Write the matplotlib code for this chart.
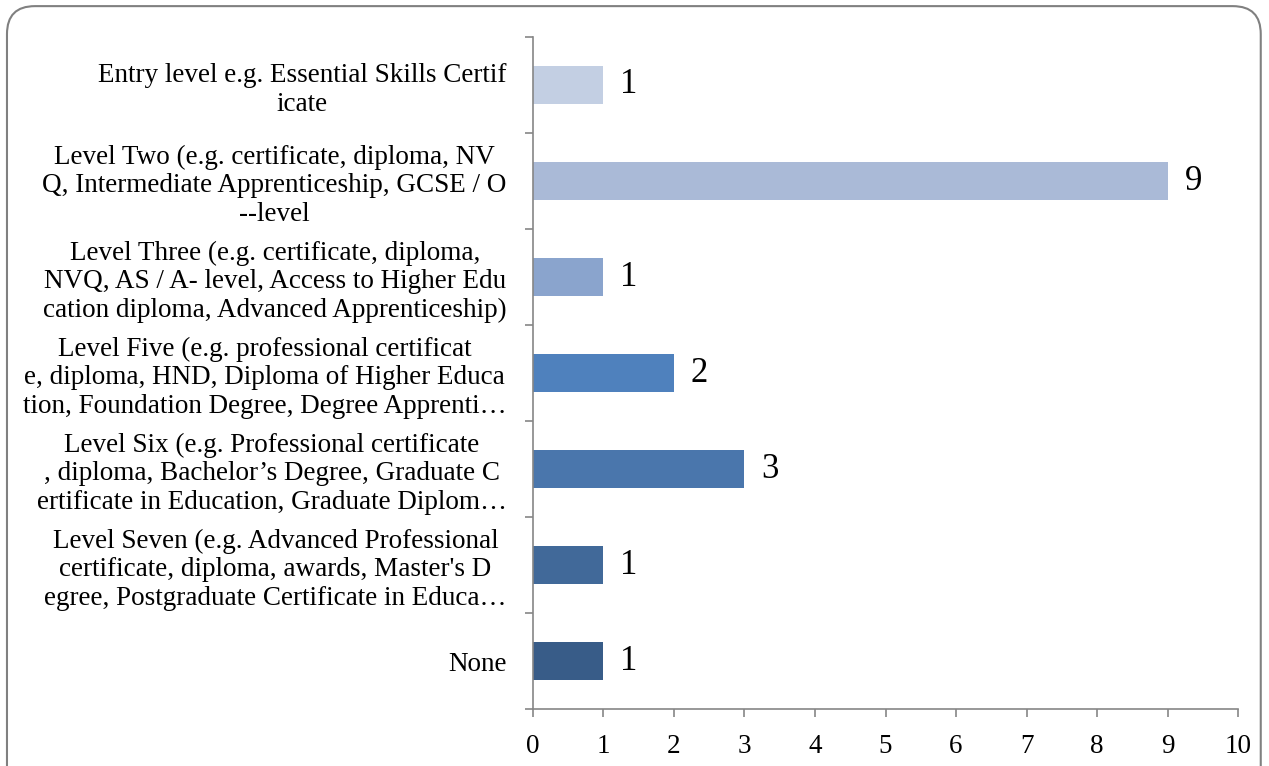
import numpy as np
import matplotlib
matplotlib.use("Agg")
import matplotlib.pyplot as plt
from matplotlib.patches import FancyBboxPatch
from matplotlib.ticker import FixedLocator

# Data (top to bottom as in the picture)
categories = [
    "Entry level e.g. Essential Skills Certif\nicate",
    "Level Two (e.g. certificate, diploma, NV\nQ, Intermediate Apprenticeship, GCSE / O\n--level",
    "Level Three (e.g. certificate, diploma,\nNVQ, AS / A- level, Access to Higher Edu\ncation diploma, Advanced Apprenticeship)",
    "Level Five (e.g. professional certificat\ne, diploma, HND, Diploma of Higher Educa\ntion, Foundation Degree, Degree Apprenti\u2026",
    "Level Six (e.g. Professional certificate\n, diploma, Bachelor\u2019s Degree, Graduate C\nertificate in Education, Graduate Diplom\u2026",
    "Level Seven (e.g. Advanced Professional\ncertificate, diploma, awards, Master's D\negree, Postgraduate Certificate in Educa\u2026",
    "None",
]
values = [1, 9, 1, 2, 3, 1, 1]
bar_colors = ["#c3cfe3", "#aabad7", "#8aa4cd", "#4f81bd", "#4a76ac", "#416999", "#385c88"]
xticks = list(range(0, 11))

plt.rcParams['font.family'] = ['Liberation Serif', 'DejaVu Serif']

fig = plt.figure(figsize=(12.69, 7.66), dpi=100)
ax = fig.add_axes([0.420, 0.0744, 0.5556, 0.8773])

y = np.arange(len(categories))
ax.barh(y, values, height=0.4, color=bar_colors, zorder=2)

for yi, v in zip(y, values):
    ax.text(v + 0.24, yi, str(v), va='center', ha='left', fontsize=25)

ax.set_ylim(len(categories) - 0.5, -0.5)
ax.set_xlim(0, 10)
ax.set_xticks(xticks)

ax.set_yticks(y)
ax.set_yticklabels(categories, fontsize=19.5, multialignment='center', linespacing=1.2)
ax.yaxis.set_minor_locator(FixedLocator(np.arange(-0.5, len(categories), 1)))
ax.tick_params(axis='y', which='major', length=0, pad=19)
ax.tick_params(axis='y', which='minor', length=6, color='#868686', width=1.2)
ax.tick_params(axis='x', which='major', length=6, color='#868686', width=1.2,
               labelsize=19.5, pad=12)

for s in ['top', 'right']:
    ax.spines[s].set_visible(False)
for s in ['left', 'bottom']:
    ax.spines[s].set_color('#868686')
    ax.spines[s].set_linewidth(1.2)

# rounded frame around the chart
frame = FancyBboxPatch((0.0055, -0.05), 0.988, 1.042,
                       boxstyle="round,pad=0,rounding_size=0.022",
                       transform=fig.transFigure, fill=False,
                       edgecolor='#808080', linewidth=1.5,
                       mutation_aspect=1269 / 766)
fig.patches.append(frame)

fig.savefig("out.png", dpi=100)
